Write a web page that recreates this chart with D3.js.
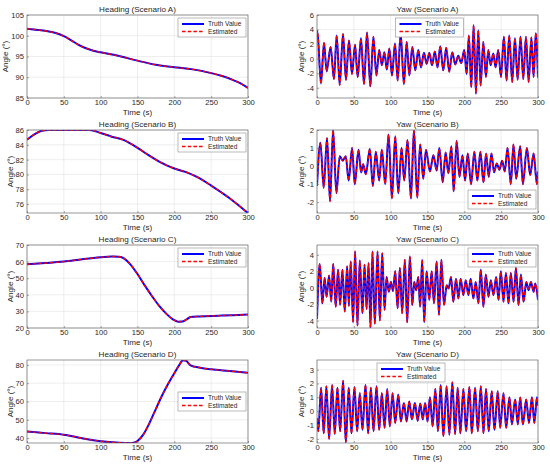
<!DOCTYPE html>
<html>
<head>
<meta charset="utf-8">
<script src="https://cdn.jsdelivr.net/npm/d3@7"></script>
<style>
body { margin: 0; background: #fff; }
svg { display: block; font-family: "Liberation Sans", Arial, sans-serif; }
</style>
</head>
<body>
<svg id="chart" width="550" height="468"></svg>
<script>
// values: [time (s), angle (deg)]
const timeTicks = [0, 50, 100, 150, 200, 250, 300];

const headingA = [[0,101.7],[15,101.4],[30,101.0],[40,100.6],[50,99.9],[60,98.9],[70,97.8],[80,97.0],[90,96.4],[100,96.0],
  [125,95.1],[150,94.0],[175,93.0],[200,92.4],[225,91.9],[250,91.0],[265,90.3],[280,89.3],[290,88.5],[300,87.4]];
const headingB = [[0,84.7],[10,85.4],[20,85.9],[30,86.0],[60,86.0],[85,86.0],[100,85.6],[115,85.1],[130,84.7],[150,83.6],
  [165,82.6],[180,81.7],[200,80.8],[215,80.35],[230,79.7],[250,78.5],[265,77.5],[275,76.8],[290,75.6],[300,74.8]];
const headingC = [[0,58.4],[25,59.1],[50,60.0],[75,61.4],[100,62.6],[115,63.1],[125,62.9],[132,61.8],[140,58.5],[150,52.5],
  [160,45.5],[170,39.0],[180,33.0],[190,28.2],[198,25.2],[205,23.8],[211,23.9],[216,25.0],[222,26.6],[235,27.0],
  [260,27.4],[280,27.7],[300,28.1]];
const headingD = [[0,43.6],[25,42.7],[50,41.8],[65,40.7],[80,39.5],[100,38.3],[125,37.5],[143,37.3],[150,38.4],[158,42],
  [166,48],[175,56],[183,63],[192,70],[200,75.5],[206,79.5],[212,82.6],[216,82.3],[222,79.8],[235,78.5],
  [250,77.6],[275,76.7],[300,75.7]];

// yaw: turning points of the oscillation
const yawA = [[0,3.4],[0.5,3.8],[5.4,-3.4],[9.5,2.2],[13.1,-1.75],[18.5,1.6],[23,-2.8],[26.7,3.2],[30.8,-3.6],[35.3,3.4],
  [39.3,-2.9],[43.4,2.5],[47.5,-2.1],[51.6,1.9],[55.2,-2.5],[59.7,2.8],[63.8,-3.5],[67.9,3.6],[72.4,-3.8],[76.5,3.0],
  [80.6,-2.3],[84.5,1.2],[88,-0.9],[91.5,0.9],[94.8,-1.5],[98.2,1.4],[101.8,-2.3],[105.9,2.1],[109.5,-3.0],[113.5,3.5],
  [118,-3.5],[121.7,2.3],[125.3,-2.3],[129.4,1.6],[133.4,-1.6],[137.5,1.2],[141.1,-1.2],[145.2,0.8],[148.8,-0.7],
  [152.5,0.8],[156.2,-0.9],[159.9,1.0],[163.6,-1.2],[167.3,1.7],[171.4,-1.6],[175.4,1.5],[179.5,-1.8],[183.6,0.9],
  [187.7,-0.8],[191.7,0.4],[195.8,-0.6],[199.9,1.2],[203.1,-2.1],[206.2,3.2],[209.4,-3.9],[212.6,4.6],[215.8,-4.8],
  [218.9,3.9],[222.1,-3.7],[225.7,2.3],[229.3,-2.5],[232.5,1.2],[235.7,-0.9],[239.3,0.7],[242.4,-1.2],[246,1.2],
  [249.7,-2.5],[253.7,3.0],[257.3,-3.0],[260.9,3.2],[265,-3.2],[268.7,2.8],[272.3,-2.9],[276.3,3.0],[280,-2.8],
  [283.6,3.0],[287.3,-3.2],[291,2.9],[294,-2.5],[297,3.5],[300,-2.6]];
const yawB = [[0,-1.1],[4.6,1.3],[9.1,-1.2],[13.6,1.55],[17.7,-1.95],[21.8,2.0],[26.3,-1.5],[30.9,0.55],[35,0.3],[39,0.55],
  [43,-0.8],[47.6,1.0],[51.3,-1.0],[56.3,0.9],[59.9,-0.35],[62.6,0.1],[66.3,-0.45],[71.7,0.95],[75.8,-1.1],[79.8,0.8],
  [84.4,-0.8],[88,0.9],[92.6,-1.0],[97.1,1.75],[101.7,-1.8],[106.2,1.65],[110.3,-1.5],[114.8,1.0],[118.4,-0.8],
  [122.9,1.45],[127.5,-1.8],[131.6,2.0],[136.1,-1.75],[140,1.2],[144.3,-0.7],[147.9,0.9],[153.3,-0.3],[158,0.6],
  [162.4,-0.25],[166,1.0],[170.6,-0.9],[174.6,0.75],[178.3,-0.4],[182.4,1.1],[185.5,-1.4],[189.6,1.4],[193.3,-0.6],
  [197.4,0.6],[201,-0.8],[204.6,0.7],[209.1,-1.0],[213.6,0.8],[217.7,-0.8],[221.8,0.8],[225.9,-0.9],[229.5,0.7],
  [233.1,-0.6],[236.8,0.7],[240.4,-0.35],[244,0.15],[247.6,-0.2],[251.3,0.3],[254.9,-0.3],[258.6,1.0],[263.1,-1.0],
  [266.7,1.2],[270.4,-0.7],[275.8,1.1],[279.5,-1.0],[284.9,1.0],[289.4,-0.5],[294,0.7],[298.5,-1.0],[300,-0.3]];
const yawC = [[0,-3.8],[3.7,2.9],[7.3,-1.9],[10.3,1.2],[13,-1.1],[16.4,1.5],[19.3,-1.7],[22,2.9],[25.4,-2.3],[28.6,2.2],
  [31.3,-2.1],[34.5,2.2],[37.7,-2.9],[40.9,2.6],[43.3,-2.2],[45.8,3.2],[49,-4.2],[51.7,4.4],[54.9,-4.6],[58.1,3.3],
  [61.7,-3.1],[64.5,2.8],[67.3,-2.6],[70,3.0],[72.6,-4.9],[75.3,4.4],[78.5,-4.4],[82.2,4.4],[85.3,-4.0],[88.5,4.2],
  [91.7,-2.7],[94.4,1.3],[97.5,-0.5],[100.3,0.7],[103.2,-0.4],[106.2,2.0],[109.4,-2.5],[112.5,2.4],[115.6,-3.1],
  [119.3,3.4],[122.4,-4.2],[126.1,3.8],[129.3,-2.1],[132,0.7],[134.7,-0.3],[137.5,1.3],[140,-2.3],[142.8,3.4],
  [145.5,-4.2],[148.8,2.0],[152.4,-1.5],[155.6,2.0],[158.8,-1.9],[162.4,3.2],[165.6,-3.3],[168.8,3.4],[172.4,-2.1],
  [176,0.3],[178.7,-0.1],[181.9,1.3],[185.1,-1.7],[188.7,1.1],[191.9,-1.3],[195,1.1],[198.7,-0.9],[201.9,0.9],
  [205.5,-0.9],[208.6,1.1],[212.3,-1.3],[215.4,0.7],[219.1,-1.9],[222.3,2.2],[225.9,-2.3],[229.1,1.6],[232.7,-1.1],
  [235.9,0.9],[239.5,-0.9],[243.2,1.3],[246.4,-1.5],[249.5,2.0],[253.2,-1.7],[256.4,1.8],[260,-1.9],[263.1,1.8],
  [266.8,-1.7],[270,2.4],[273.6,-2.1],[276.8,1.6],[280.4,-1.7],[284.1,0.7],[287.2,-0.3],[290.4,0.7],[294.1,-0.5],
  [296.3,0.5],[300,-1.5]];
const yawD = [[0,-0.5],[1.8,-1.45],[5.5,1.7],[9.1,-1.6],[12.7,1.8],[16.4,-2.0],[20.5,1.9],[24.1,-1.65],[27.7,1.7],
  [31.4,-1.45],[35.4,2.2],[39.1,-2.25],[43.1,1.7],[46.8,-1.6],[50.8,1.75],[54.5,-1.45],[58.1,1.3],[61.7,-1.35],
  [65.8,1.9],[69.4,-1.6],[73.1,1.7],[76.7,-1.45],[80.8,1.8],[84.4,-1.35],[88,1.3],[91.7,-1.2],[95.3,1.6],[98.9,-1.1],
  [102.6,1.3],[106.2,-0.85],[110.3,1.2],[113.9,-0.75],[118,0.6],[121.6,-0.75],[125.2,0.7],[128.9,-0.6],[132.9,0.6],
  [136.6,-0.7],[140.2,0.55],[143.6,-0.6],[146.8,0.6],[150,-0.75],[153.3,1.0],[157,-1.1],[160.6,1.6],[164.2,-1.45],
  [167.9,1.9],[171.5,-1.8],[176,1.8],[179.6,-1.7],[183.7,2.1],[187.4,-1.65],[191,1.7],[194.6,-1.6],[198.7,1.6],
  [202.4,-1.45],[206.9,1.75],[210.1,-1.6],[214.6,1.7],[218.3,-1.45],[222.4,1.8],[226,-1.6],[229.4,1.6],[233.1,-1.45],
  [237.2,1.45],[240.9,-1.35],[245.4,1.45],[248.6,-1.2],[253.1,1.3],[256.8,-1.2],[261.3,1.0],[264.5,-0.95],[269,0.85],
  [272.6,-0.95],[275.8,1.0],[279.5,-0.95],[284,0.85],[287.7,-0.85],[291.8,1.0],[295,-0.85],[298.6,1.0],[300,0.4]];

const headingATicks = [85, 90, 95, 100, 105];
const headingBTicks = [76, 78, 80, 82, 84, 86];
const headingCTicks = [20, 30, 40, 50, 60, 70];
const headingDTicks = [40, 50, 60, 70, 80];
const yawATicks = [-4, -2, 0, 2, 4, 6];
const yawBTicks = [-2, -1, 0, 1, 2];
const yawCTicks = [-4, -2, 0, 2, 4];
const yawDTicks = [-2, -1, 0, 1, 2, 3];

const seriesNames = ["Truth Value", "Estimated"];

const panels = [
  {title: "Heading (Scenario A)", data: headingA, ticks: headingATicks, domain: [85, 105], col: 0, row: 0, legend: "ne"},
  {title: "Yaw (Scenario A)", data: yawA, ticks: yawATicks, domain: [-5.4, 6], col: 1, row: 0, legend: "n"},
  {title: "Heading (Scenario B)", data: headingB, ticks: headingBTicks, domain: [74.8, 86], col: 0, row: 1, legend: "ne"},
  {title: "Yaw (Scenario B)", data: yawB, ticks: yawBTicks, domain: [-2.6, 2], col: 1, row: 1, legend: "se"},
  {title: "Heading (Scenario C)", data: headingC, ticks: headingCTicks, domain: [20, 70], col: 0, row: 2, legend: "ne"},
  {title: "Yaw (Scenario C)", data: yawC, ticks: yawCTicks, domain: [-4.9, 5.2], col: 1, row: 2, legend: "ne"},
  {title: "Heading (Scenario D)", data: headingD, ticks: headingDTicks, domain: [37.3, 82.7], col: 0, row: 3, legend: "e"},
  {title: "Yaw (Scenario D)", data: yawD, ticks: yawDTicks, domain: [-2.3, 3.7], col: 1, row: 3, legend: "nw"}
];

const colX = [[27, 248], [317, 538]];
const rowTop = [15, 130, 245, 360];
const plotH = 83;
const textColor = "#1f1f1f";
const blue = "#0000ff", red = "#ff0000";
const dash = "3.5,2.2";

const svg = d3.select("#chart");

panels.forEach(function (p, i) {
  var x0 = colX[p.col][0], x1 = colX[p.col][1];
  var top = rowTop[p.row], bottom = top + plotH;

  var x = d3.scaleLinear().domain([0, 300]).range([x0, x1]);
  var y = d3.scaleLinear().domain(p.domain).range([bottom, top]);

  var g = svg.append("g");

  svg.append("clipPath").attr("id", "clip" + i)
    .append("rect").attr("x", x0).attr("y", top).attr("width", x1 - x0).attr("height", plotH);

  // grid
  g.append("g").selectAll("line").data(timeTicks).join("line")
    .attr("x1", d => x(d)).attr("x2", d => x(d)).attr("y1", top).attr("y2", bottom)
    .attr("stroke", "#e3e3e3").attr("stroke-width", 0.6);
  g.append("g").selectAll("line").data(p.ticks).join("line")
    .attr("y1", d => y(d)).attr("y2", d => y(d)).attr("x1", x0).attr("x2", x1)
    .attr("stroke", "#e3e3e3").attr("stroke-width", 0.6);

  var line = d3.line().x(d => x(d[0])).y(d => y(d[1])).curve(d3.curveMonotoneX);

  var lines = g.append("g").attr("clip-path", "url(#clip" + i + ")");
  lines.append("path").datum(p.data).attr("d", line)
    .attr("fill", "none").attr("stroke", blue).attr("stroke-width", 2);
  lines.append("path").datum(p.data).attr("d", line)
    .attr("fill", "none").attr("stroke", red).attr("stroke-width", 1.4)
    .attr("stroke-dasharray", dash);

  // axes with inward ticks
  var xAxis = d3.axisBottom(x).tickValues(timeTicks).tickFormat(d => String(d))
    .tickSizeInner(-2).tickSizeOuter(0).tickPadding(2);
  var yAxis = d3.axisLeft(y).tickValues(p.ticks).tickFormat(d => String(d))
    .tickSizeInner(-2).tickSizeOuter(0).tickPadding(3);

  var gx = g.append("g").attr("transform", "translate(0," + bottom + ")").call(xAxis);
  var gy = g.append("g").attr("transform", "translate(" + x0 + ",0)").call(yAxis);
  [gx, gy].forEach(function (a) {
    a.select(".domain").remove();
    a.selectAll(".tick line").attr("stroke", "#6b6b6b").attr("stroke-width", 0.6);
    a.selectAll(".tick text").attr("fill", textColor).attr("font-size", 7.6)
      .attr("font-family", "Liberation Sans, Arial, sans-serif");
  });

  g.append("rect").attr("x", x0).attr("y", top).attr("width", x1 - x0).attr("height", plotH)
    .attr("fill", "none").attr("stroke", "#6b6b6b").attr("stroke-width", 0.7);

  // title and axis labels
  g.append("text").attr("x", (x0 + x1) / 2).attr("y", top - 3)
    .attr("text-anchor", "middle").attr("font-size", 8.1).attr("fill", textColor).text(p.title);
  g.append("text").attr("x", (x0 + x1) / 2).attr("y", bottom + 16.5)
    .attr("text-anchor", "middle").attr("font-size", 8.1).attr("fill", textColor).text("Time (s)");

  var maxW = 0;
  gy.selectAll(".tick text").each(function () { maxW = Math.max(maxW, this.getComputedTextLength()); });
  var lx = x0 - 3 - maxW - 3;
  g.append("text").attr("transform", "translate(" + lx + "," + ((top + bottom) / 2) + ") rotate(-90)")
    .attr("text-anchor", "middle").attr("font-size", 8.1).attr("fill", textColor).text("Angle (°)");

  // legend
  var lw = 68, lh = 19, lxPos, lyPos;
  if (p.legend === "ne") { lxPos = x1 - 2 - lw; lyPos = top + 3; }
  else if (p.legend === "n") { lxPos = (x0 + x1) / 2 - lw / 2 + 2; lyPos = top + 3; }
  else if (p.legend === "se") { lxPos = x1 - 2 - lw; lyPos = bottom - 4 - lh; }
  else if (p.legend === "e") { lxPos = x1 - 2 - lw; lyPos = (top + bottom) / 2 - lh / 2; }
  else { lxPos = x0 + 60; lyPos = top + 3; }

  var lg = g.append("g").attr("transform", "translate(" + lxPos + "," + lyPos + ")");
  lg.append("rect").attr("width", lw).attr("height", lh)
    .attr("fill", "#fff").attr("stroke", "#8c8c8c").attr("stroke-width", 0.6);
  seriesNames.forEach(function (name, k) {
    var ly = 6 + k * 7.5;
    lg.append("line").attr("x1", 4).attr("x2", 26).attr("y1", ly).attr("y2", ly)
      .attr("stroke", k === 0 ? blue : red).attr("stroke-width", k === 0 ? 2 : 1.4)
      .attr("stroke-dasharray", k === 0 ? null : dash);
    lg.append("text").attr("x", 30).attr("y", ly).attr("dy", "0.35em")
      .attr("font-size", 6.6).attr("fill", textColor).text(name);
  });
});
</script>
</body>
</html>
